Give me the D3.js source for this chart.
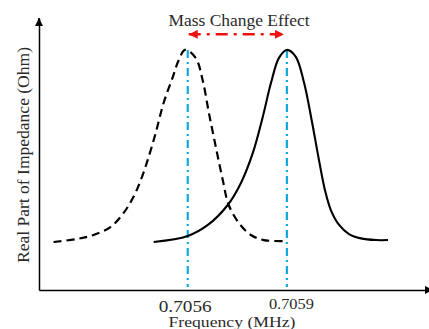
<!DOCTYPE html>
<html><head><meta charset="utf-8">
<script src="https://cdn.jsdelivr.net/npm/d3@7"></script>
<style>
html,body{margin:0;padding:0;background:#fff;}
svg{display:block;}
text{font-family:"Liberation Serif","Times New Roman",serif;fill:#2a2a2a;}
</style></head>
<body>
<script>
// Data (frequency in MHz, real part of impedance in arbitrary Ohm units)
const beforeFreq = [0.705194,0.705267,0.705315,0.705367,0.705406,0.705436,0.705458,0.705479,0.705503,0.705527,0.705555,0.705573,0.705592,0.705624,0.705645,0.705664,0.705685,0.705706,0.705724,0.705755,0.705791,0.70583,0.7059];
const beforeZ    = [20.0,21.3,22.9,26.3,32.1,38.8,45.8,54.2,65.4,77.9,88.8,95.8,100,96.7,87.5,73.8,59.6,45.8,35.4,27.9,22.9,20.8,20.4];
const afterFreq  = [0.705497,0.7056,0.705661,0.705721,0.705761,0.705797,0.705827,0.705852,0.705876,0.7059,0.705927,0.705952,0.705976,0.705997,0.706015,0.706033,0.706058,0.706088,0.706124,0.70617,0.706206];
const afterZ     = [20.0,22.5,27.1,35.4,44.6,57.1,72.1,86.3,96.7,100,97.1,86.3,70.0,54.2,41.7,33.3,27.1,23.3,21.5,20.8,20.8];
const peakFreqs  = [0.7056, 0.7059];
const tickLabels = ["0.7056", "0.7059"];
const title = "Mass Change Effect";
const xTitle = "Frequency (MHz)";
const yTitle = "Real Part of Impedance (Ohm)";
const xDomain = [0.70515, 0.70633];
const yDomain = [0, 113.3];

const W = 429, H = 329;
const svg = d3.select("body").append("svg").attr("width", W).attr("height", H);
const x = d3.scaleLinear().domain(xDomain).range([39, 429]);
const y = d3.scaleLinear().domain(yDomain).range([290, 18]);

const defs = svg.append("defs");
defs.append("marker").attr("id","axArrow").attr("viewBox","0 0 10 10").attr("refX",10).attr("refY",5)
  .attr("markerUnits","userSpaceOnUse").attr("markerWidth",8).attr("markerHeight",8).attr("orient","auto")
  .append("path").attr("d","M0,0 L10,5 L0,10 Z").attr("fill","#000");
defs.append("marker").attr("id","redArrow").attr("viewBox","0 0 10 10").attr("refX",10).attr("refY",5)
  .attr("markerUnits","userSpaceOnUse").attr("markerWidth",9).attr("markerHeight",9).attr("orient","auto-start-reverse")
  .append("path").attr("d","M0,0 L10,5 L0,10 Z").attr("fill","#f01010");

// Axes
const xAxis = d3.axisBottom(x).tickValues(peakFreqs).tickSize(0).tickSizeOuter(0).tickFormat((d,i)=>tickLabels[i]);
const gx = svg.append("g").attr("transform",`translate(0,${y(0)})`).call(xAxis);
gx.select(".domain").attr("stroke","#000").attr("stroke-width",1.5);
gx.selectAll(".tick text").attr("font-family","Liberation Serif, serif").attr("fill","#2a2a2a")
  .attr("font-size",(d,i)=> i===0 ? 16 : 14.5)
  .attr("dy","0")
  .attr("y",(d,i)=> i===0 ? 21.5 : 19)
  .attr("x",(d,i)=> i===0 ? -3 : 4)
  .attr("textLength",(d,i)=> i===0 ? 53 : 45).attr("lengthAdjust","spacingAndGlyphs");
gx.append("line").attr("x1",x(xDomain[1])-2).attr("x2",x(xDomain[1])+4).attr("y1",0).attr("y2",0)
  .attr("stroke","#000").attr("stroke-width",1.5).attr("marker-end","url(#axArrow)");

const yAxis = d3.axisLeft(y).tickValues([]).tickSizeOuter(0);
const gy = svg.append("g").attr("transform",`translate(${x(xDomain[0])},0)`).call(yAxis);
gy.select(".domain").attr("stroke","#000").attr("stroke-width",1.5);
gy.append("line").attr("x1",0).attr("x2",0).attr("y1",y(yDomain[1])+8).attr("y2",y(yDomain[1]))
  .attr("stroke","#000").attr("stroke-width",1.5).attr("marker-end","url(#axArrow)");

// Cyan peak markers
svg.selectAll("line.peak").data(peakFreqs).join("line").attr("class","peak")
  .attr("x1",d=>x(d)).attr("x2",d=>x(d)).attr("y1",y(100)).attr("y2",y(0)-3)
  .attr("stroke","#14a8dc").attr("stroke-width",2.2).attr("stroke-dasharray","8,4,2,4");

// Curves
const line = d3.line().x(d=>x(d[0])).y(d=>y(d[1])).curve(d3.curveCatmullRom.alpha(0.5));
svg.append("path").datum(d3.zip(beforeFreq, beforeZ)).attr("d", line)
  .attr("fill","none").attr("stroke","#000").attr("stroke-width",2.2).attr("stroke-dasharray","8,5");
svg.append("path").datum(d3.zip(afterFreq, afterZ)).attr("d", line)
  .attr("fill","none").attr("stroke","#000").attr("stroke-width",2.1);

// Red shift arrow
svg.append("line").attr("x1",x(peakFreqs[0])+1).attr("x2",x(peakFreqs[1])-3)
  .attr("y1",y(106.5)).attr("y2",y(106.5))
  .attr("stroke","#f01010").attr("stroke-width",2.4).attr("stroke-dasharray","12,6,3,6")
  .attr("marker-start","url(#redArrow)").attr("marker-end","url(#redArrow)");

// Titles
svg.append("text").attr("x",239).attr("y",26).attr("text-anchor","middle").attr("font-size",16)
  .attr("textLength",141).attr("lengthAdjust","spacingAndGlyphs").text(title);
svg.append("text").attr("x",232).attr("y",327).attr("text-anchor","middle").attr("font-size",15.5)
  .attr("textLength",127).attr("lengthAdjust","spacingAndGlyphs").text(xTitle);
svg.append("text").attr("transform","translate(28.5,155) rotate(-90)").attr("text-anchor","middle").attr("font-size",16)
  .attr("textLength",216).attr("lengthAdjust","spacingAndGlyphs").text(yTitle);
</script>
</body></html>
